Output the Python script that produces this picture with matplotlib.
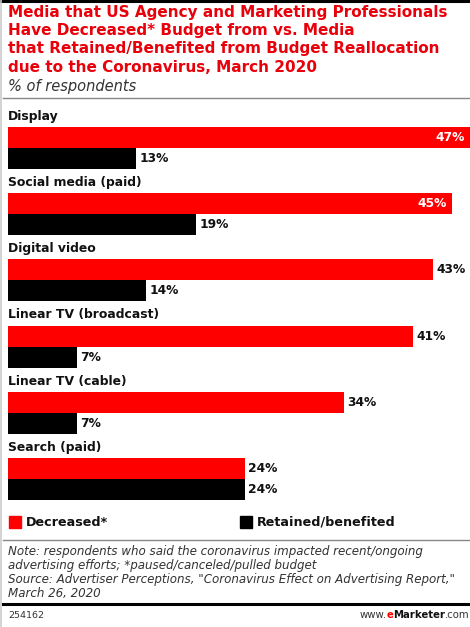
import matplotlib.pyplot as plt
from matplotlib.lines import Line2D
from matplotlib.patches import Rectangle

categories = ['Display', 'Social media (paid)', 'Digital video',
              'Linear TV (broadcast)', 'Linear TV (cable)', 'Search (paid)']
decreased = [47, 45, 43, 41, 34, 24]
retained = [13, 19, 14, 7, 7, 24]
series_names = ['Decreased*', 'Retained/benefited']

title_lines = ['Media that US Agency and Marketing Professionals',
               'Have Decreased* Budget from vs. Media',
               'that Retained/Benefited from Budget Reallocation',
               'due to the Coronavirus, March 2020']
note_lines = ['Note: respondents who said the coronavirus impacted recent/ongoing',
              'advertising efforts; *paused/canceled/pulled budget',
              'Source: Advertiser Perceptions, "Coronavirus Effect on Advertising Report,"',
              'March 26, 2020']

RED = '#ff0000'
TITLE_RED = '#e8000b'
W, H = 470, 627

fig = plt.figure(figsize=(W / 100, H / 100), dpi=100)


def fy(py):
    # pixel row (from top) -> figure fraction
    return 1 - py / H


def fx(px):
    return px / W


# frame lines
fig.add_artist(Line2D([0, 1], [fy(1), fy(1)], color='black', lw=2.2))
fig.add_artist(Line2D([fx(1), fx(1)], [0, 1], color='#cccccc', lw=1.2))

for i, line in enumerate(title_lines):
    fig.text(fx(8), fy(13 + 18 * i), line, color=TITLE_RED, fontsize=10.95,
             fontweight='bold', va='center', ha='left')
fig.text(fx(8), fy(86), '% of respondents', color='#333333', fontsize=10.5,
         style='italic', va='center', ha='left')
fig.add_artist(Line2D([fx(3), 1], [fy(98), fy(98)], color='#888888', lw=1))

# bars
h = 21 / 66.2
ax = fig.add_axes([fx(8), fy(500), fx(470) - fx(8), fy(127) - fy(500)])
xmax = (470 - 8) / 9.875
ax.set_xlim(0, xmax)
ax.set_ylim(len(categories) - 1 + h, -h)
ax.axis('off')

ypos = list(range(len(categories)))
ax.barh([y - h / 2 for y in ypos], decreased, height=h, color=RED)
ax.barh([y + h / 2 for y in ypos], retained, height=h, color='black')

for y, name, d, r in zip(ypos, categories, decreased, retained):
    ax.annotate(name, (0, y - h), xytext=(0, 3), textcoords='offset points',
                fontsize=8.9, fontweight='bold', ha='left', va='bottom',
                color='#111111', annotation_clip=False)
    if d > 44:
        ax.annotate(f'{d}%', (min(d, xmax), y - h / 2), xytext=(-4, 0),
                    textcoords='offset points', fontsize=8.8, fontweight='bold',
                    color='white', ha='right', va='center')
    else:
        ax.annotate(f'{d}%', (d, y - h / 2), xytext=(2.5, 0),
                    textcoords='offset points', fontsize=8.8, fontweight='bold',
                    color='#111111', ha='left', va='center')
    ax.annotate(f'{r}%', (r, y + h / 2), xytext=(2.5, 0),
                textcoords='offset points', fontsize=8.8, fontweight='bold',
                color='#111111', ha='left', va='center')

# legend
for px, color, name in [(9, RED, series_names[0]), (240, 'black', series_names[1])]:
    fig.add_artist(Rectangle((fx(px), fy(528)), fx(12), fy(516) - fy(528),
                             color=color, transform=fig.transFigure))
    fig.text(fx(px + 17), fy(522), name, fontsize=9.2, fontweight='bold',
             color='#111111', va='center', ha='left')
fig.add_artist(Line2D([fx(3), 1], [fy(540), fy(540)], color='#888888', lw=1))

for i, line in enumerate(note_lines):
    fig.text(fx(8), fy(551 + 14 * i), line, fontsize=8.55, style='italic',
             color='#333333', va='center', ha='left')

fig.add_artist(Line2D([fx(3), 1], [fy(604), fy(604)], color='black', lw=2.2))
fig.text(fx(8), fy(615), '254162', fontsize=6.8, color='#333333',
         va='center', ha='left')

# site credit, laid out right to left
renderer = fig.canvas.get_renderer()
x_right = W
for part, color, weight in [('.com', '#333333', 'normal'), ('Marketer', '#111111', 'bold'),
                            ('e', RED, 'bold'), ('www.', '#333333', 'normal')]:
    t = fig.text(fx(x_right), fy(615), part, fontsize=7.3, color=color,
                 fontweight=weight, va='center', ha='right')
    x_right -= t.get_window_extent(renderer).width

fig.savefig('out.png', dpi=100)
